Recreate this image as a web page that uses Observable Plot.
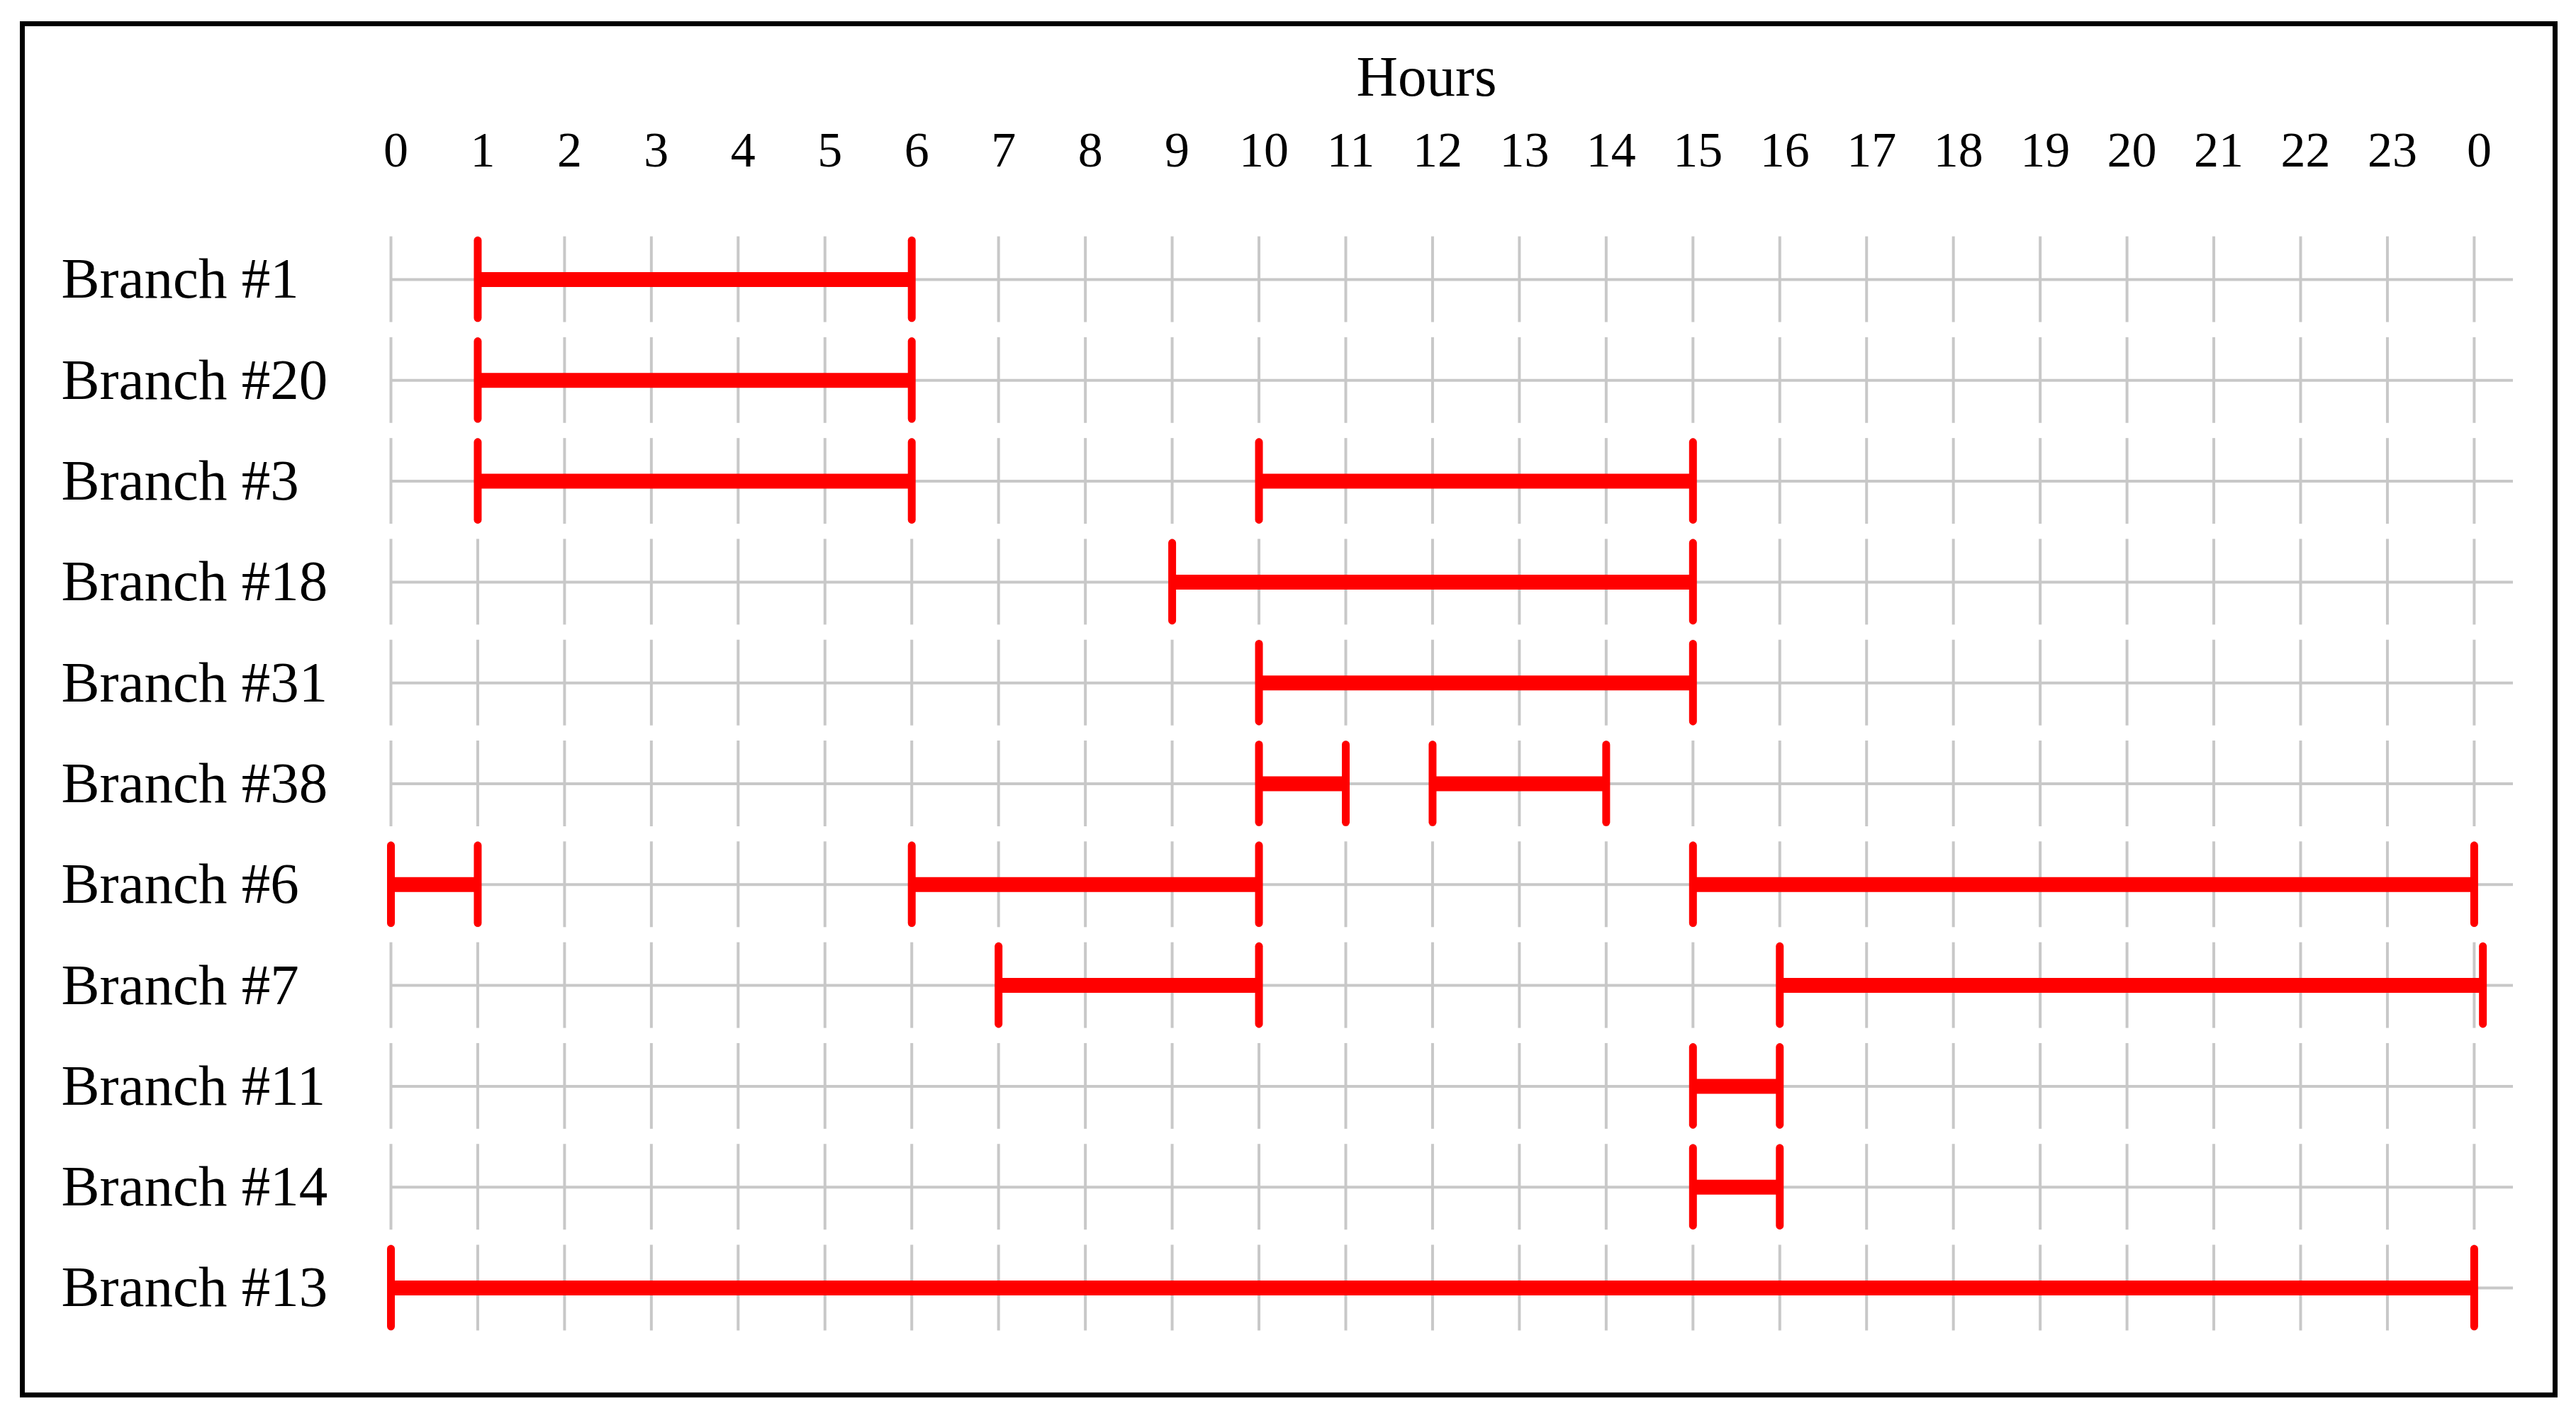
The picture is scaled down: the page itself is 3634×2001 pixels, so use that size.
<!DOCTYPE html>
<html>
<head>
<meta charset="utf-8">
<script src="https://cdn.jsdelivr.net/npm/d3@7"></script>
<script src="https://cdn.jsdelivr.net/npm/@observablehq/plot@0.6"></script>
<style>
  html, body { margin: 0; padding: 0; background: #fff; }
  #chart { position: absolute; left: 0; top: 0; width: 3634px; height: 2001px; }
  #border { position: absolute; left: 28px; top: 30px; width: 3580px; height: 1942px;
            box-sizing: border-box; border: 7px solid #000; pointer-events: none; }
</style>
</head>
<body>
<div id="chart"></div>
<div id="border"></div>
<script>
// ---- data ----
const branches = ["Branch #1", "Branch #20", "Branch #3", "Branch #18", "Branch #31",
                  "Branch #38", "Branch #6", "Branch #7", "Branch #11", "Branch #14", "Branch #13"];
const intervalBranch = ["Branch #1", "Branch #20", "Branch #3", "Branch #3", "Branch #18",
                        "Branch #31", "Branch #38", "Branch #38", "Branch #6", "Branch #6", "Branch #6",
                        "Branch #7", "Branch #7", "Branch #11", "Branch #14", "Branch #13"];
const intervalStart = [1, 1, 1, 10, 9, 10, 10, 12, 0, 6, 15, 7, 16, 15, 15, 0];
const intervalEnd   = [6, 6, 6, 15, 15, 15, 11, 14, 1, 10, 24, 10, 24.1, 16, 16, 24];
const hours = [0,1,2,3,4,5,6,7,8,9,10,11,12,13,14,15,16,17,18,19,20,21,22,23,24];
const hourLabels = ["0","1","2","3","4","5","6","7","8","9","10","11","12","13","14","15",
                    "16","17","18","19","20","21","22","23","0"];
const axisTitle = "Hours";

// ---- derived tables ----
const rowOf = b => branches.indexOf(b);
const intervals = intervalBranch.map((b, i) => ({row: rowOf(b), start: intervalStart[i], end: intervalEnd[i]}));
const caps = intervals.flatMap(d => [{row: d.row, x: d.start}, {row: d.row, x: d.end}]);
const rows = branches.map((b, i) => i);
const grid = rows.flatMap(r => hours.map(h => ({row: r, h})));
const gridHalf = 0.425;
const capHalf = 0.385;

const chart = Plot.plot({
  width: 3634,
  height: 2001,
  marginLeft: 551,
  marginRight: 89,
  marginTop: 300,
  marginBottom: 100,
  style: {fontFamily: "'Liberation Serif', 'Times New Roman', serif", background: "transparent", color: "#000"},
  x: {domain: [0, 24.45], axis: null},
  y: {domain: [0, branches.length - 1], range: [394, 1817], axis: null},
  marks: [
    Plot.ruleX(grid, {x: "h", y1: d => d.row - gridHalf, y2: d => d.row + gridHalf,
                      stroke: "#c8c8c8", strokeWidth: 4}),
    Plot.ruleY(rows, {y: d => d, x1: 0, x2: 24.45, stroke: "#c8c8c8", strokeWidth: 4}),
    Plot.ruleY(intervals, {y: "row", x1: "start", x2: "end", stroke: "#ff0000", strokeWidth: 21}),
    Plot.ruleX(caps, {x: "x", y1: d => d.row - capHalf, y2: d => d.row + capHalf,
                      stroke: "#ff0000", strokeWidth: 11, strokeLinecap: "round"}),
    Plot.axisX(hours, {anchor: "top", tickSize: 0, tickPadding: 66, fontSize: 70, label: null, dx: 7,
                       tickFormat: d => hourLabels[hours.indexOf(d)]}),
    Plot.text([axisTitle], {frameAnchor: "top", text: d => d, dx: -36, dy: -191,
                            fontSize: 81, lineAnchor: "middle", fill: "#000"}),
    Plot.text(branches, {y: (d, i) => i, text: d => d, frameAnchor: "left", textAnchor: "start",
                         dx: -465, fontSize: 81, lineAnchor: "middle", fill: "#000"})
  ]
});
document.getElementById("chart").appendChild(chart);
</script>
</body>
</html>
